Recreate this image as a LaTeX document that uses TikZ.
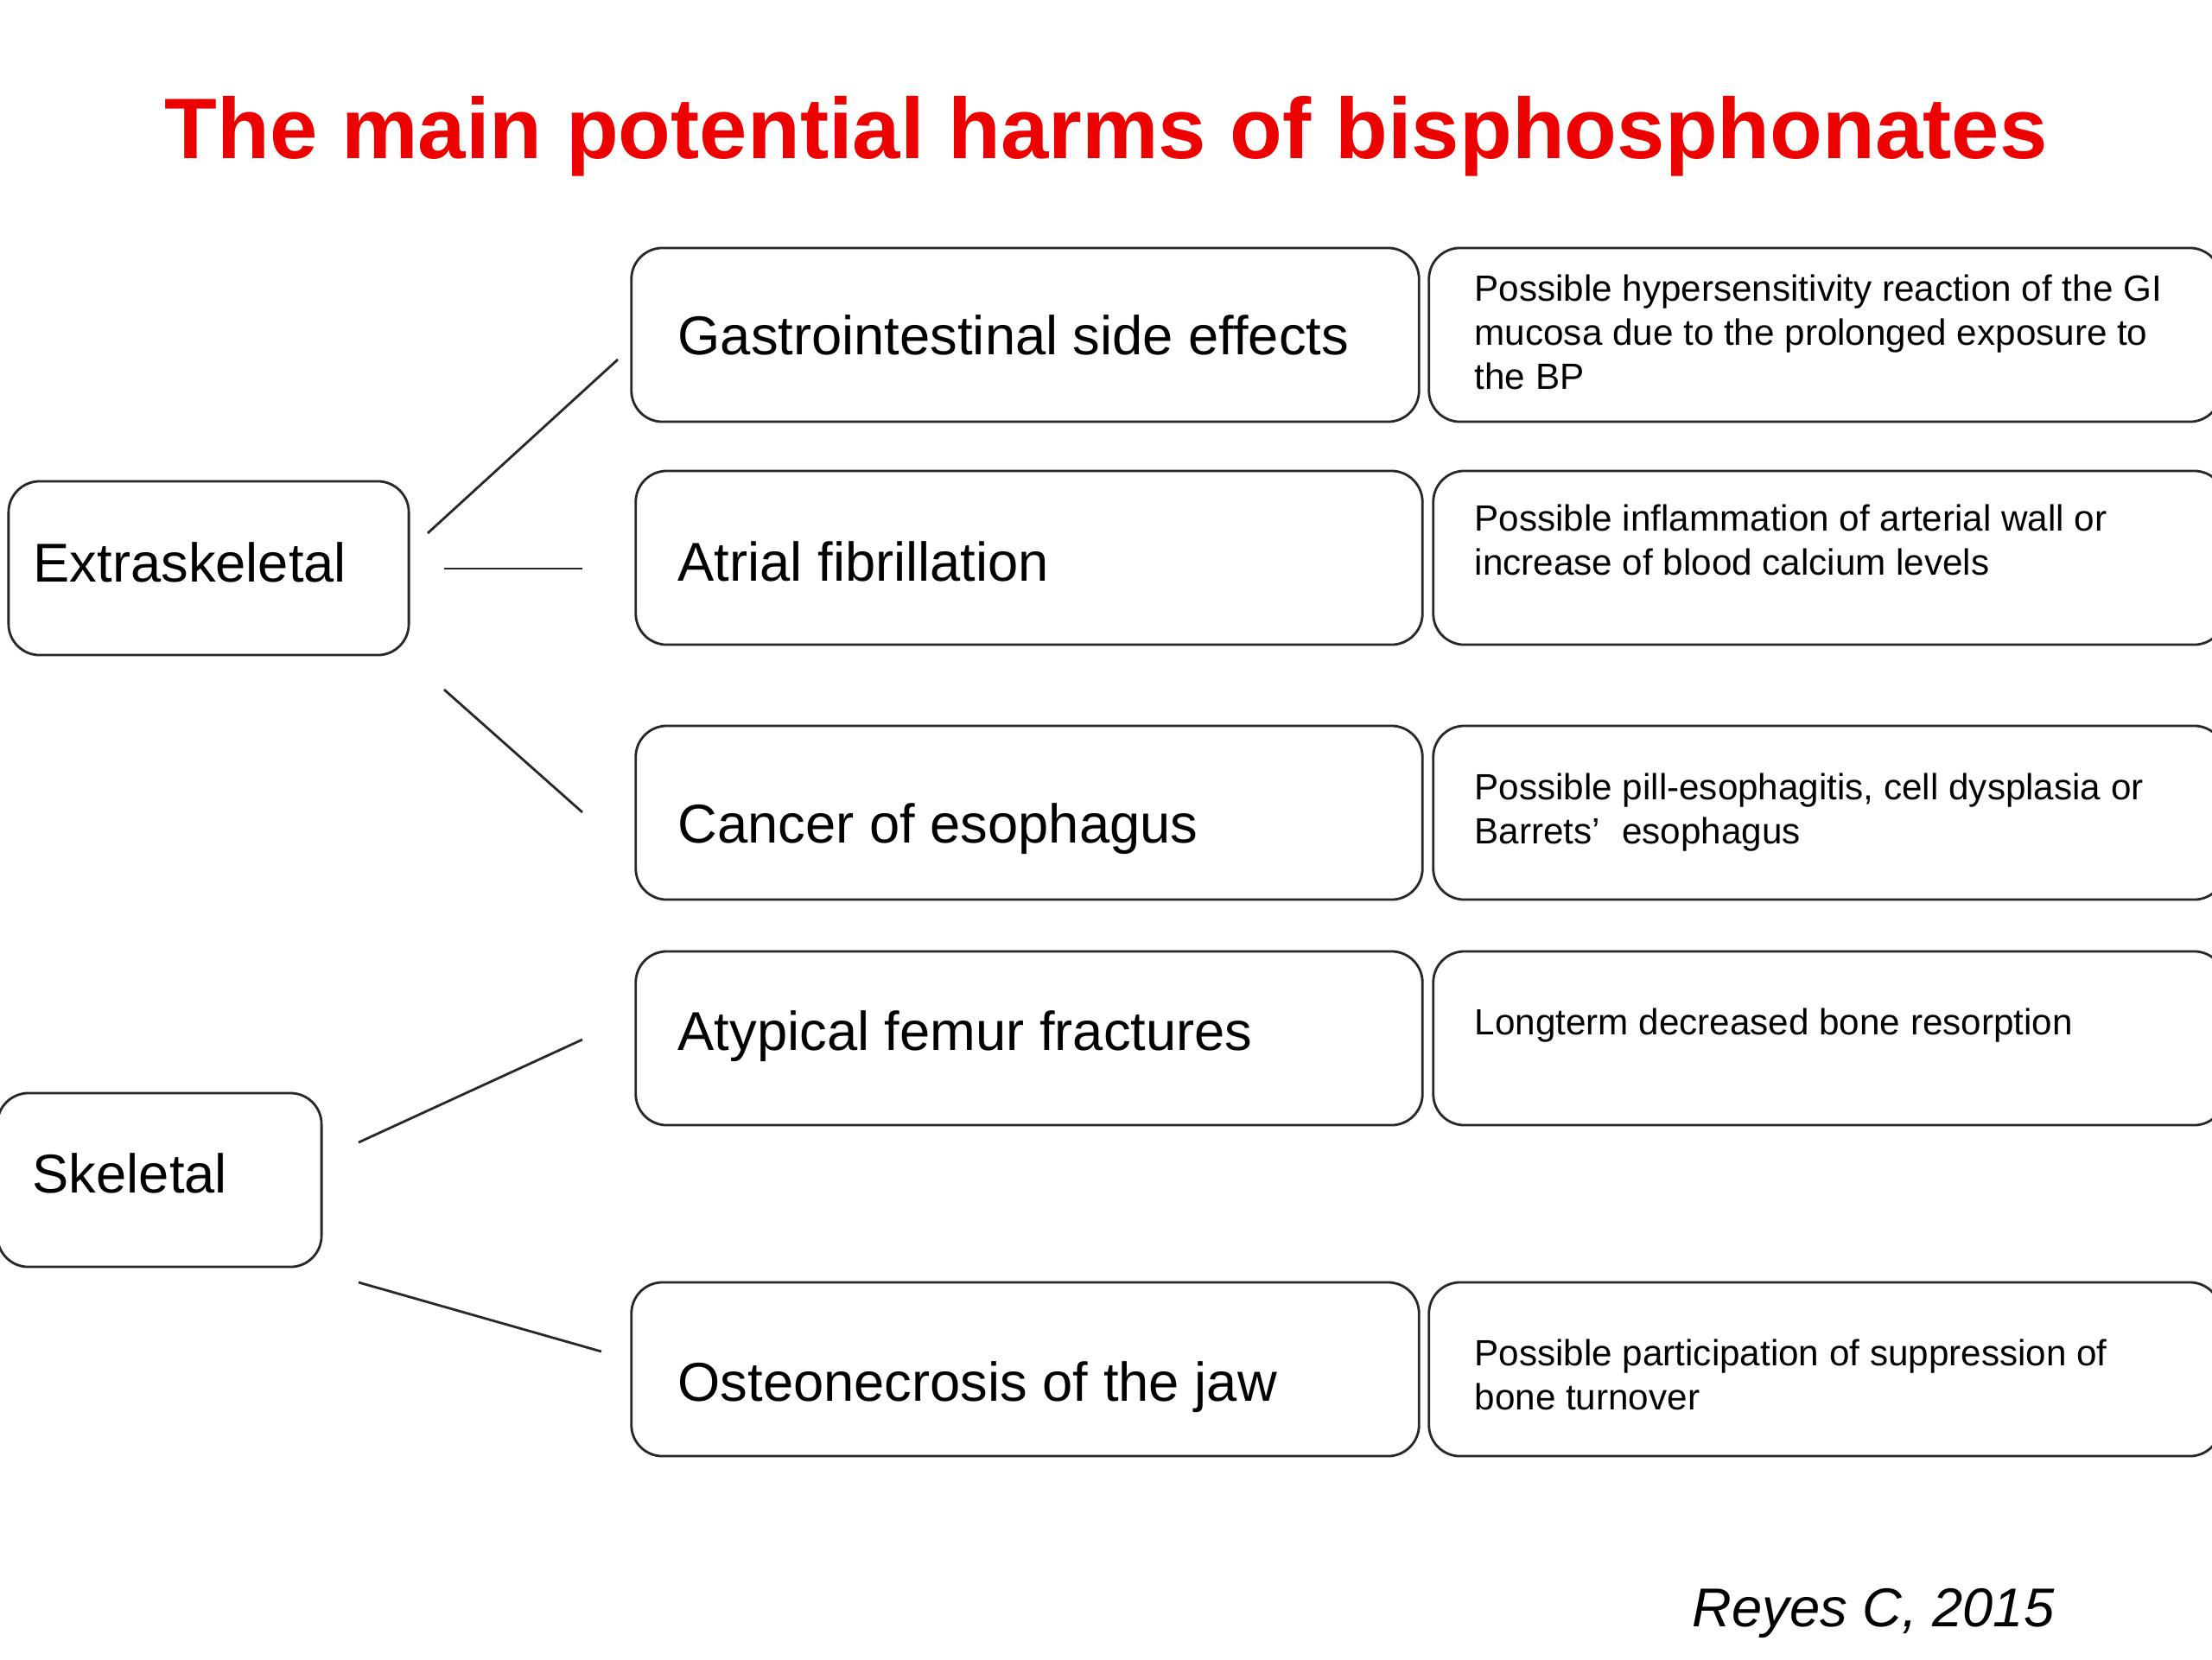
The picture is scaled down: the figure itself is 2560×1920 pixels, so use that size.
\documentclass[tikz,border=0pt]{standalone}
\usepackage{fontspec}
\setmainfont{Liberation Sans}
\usepackage{xcolor}
\definecolor{titlered}{RGB}{237,0,0}
\definecolor{boxline}{RGB}{40,40,40}

\begin{document}
\begin{tikzpicture}[x=0.01cm,y=-0.01cm,
    harm/.style={draw=boxline,line width=0.8pt,rounded corners=0.36cm,minimum height=2.01cm,inner sep=0pt},
    harmtxt/.style={anchor=base west,inner sep=0pt,font=\fontsize{18}{21.6}\selectfont},
    desctxt/.style={anchor=base west,inner sep=0pt,align=left,font=\fontsize{12}{14.5}\selectfont},
    link/.style={draw=boxline,line width=0.8pt}]
  \useasboundingbox (0,0) rectangle (2560,1920);

  \node[anchor=base,inner sep=0pt,text=titlered,font=\fontsize{28.3}{34}\selectfont\bfseries] (title)
    at (1280,183) {The main potential harms of bisphosphonates};

  \node[harm,minimum width=4.63cm] (ext) at (241.5,657.5) {};
  \node[harmtxt] (extt) at (38,673) {Extraskeletal};
  \node[harm,minimum width=3.75cm] (ske) at (184.5,1365.5) {};
  \node[harmtxt] (sket) at (37,1380) {Skeletal};

  \node[harm,minimum width=9.11cm] (gi) at (1186.5,387.5) {};
  \node[harm,minimum width=9.10cm] (af) at (1191,645.5) {};
  \node[harm,minimum width=9.10cm] (ce) at (1191,940.5) {};
  \node[harm,minimum width=9.10cm] (fe) at (1191,1201.5) {};
  \node[harm,minimum width=9.11cm] (oj) at (1186.5,1584.5) {};
  \node[harmtxt] (git) at (784,410) {Gastrointestinal side effects};
  \node[harmtxt] (aft) at (784,672) {Atrial fibrillation};
  \node[harmtxt] (cet) at (784,975) {Cancer of esophagus};
  \node[harmtxt] (fet) at (784,1215) {Atypical femur fractures};
  \node[harmtxt] (ojt) at (784,1621) {Osteonecrosis of the jaw};

  \node[harm,minimum width=9.16cm] (gid) at (2112,387.5) {};
  \node[harm,minimum width=9.16cm] (afd) at (2117,645.5) {};
  \node[harm,minimum width=9.16cm] (ced) at (2117,940.5) {};
  \node[harm,minimum width=9.16cm] (fed) at (2117,1201.5) {};
  \node[harm,minimum width=9.16cm] (ojd) at (2112,1584.5) {};
  \node[desctxt] (gidt) at (1706,450) {Possible hypersensitivity reaction of the GI\\mucosa due to the prolonged exposure to\\the BP};
  \node[desctxt] (afdt) at (1706,665) {Possible inflammation of arterial wall or\\increase of blood calcium levels};
  \node[desctxt] (cedt) at (1706,976) {Possible pill-esophagitis, cell dysplasia or\\Barrets’\hspace{0.6em}esophagus};
  \node[desctxt] (fedt) at (1706,1197) {Longterm decreased bone resorption};
  \node[desctxt] (ojdt) at (1706,1631) {Possible participation of suppression of\\bone turnover};

  \coordinate (ext-gi) at (495,617);  \coordinate (gi-ext) at (715,416);
  \coordinate (ext-af) at (514,658);  \coordinate (af-ext) at (674,658);
  \coordinate (ext-ce) at (514,798);  \coordinate (ce-ext) at (674,940);
  \coordinate (ske-fe) at (415,1322); \coordinate (fe-ske) at (674,1203);
  \coordinate (ske-oj) at (415,1484); \coordinate (oj-ske) at (696,1564);
  \draw[link] (ext-gi) -- (gi-ext);
  \draw[link] (ext-af) -- (af-ext);
  \draw[link] (ext-ce) -- (ce-ext);
  \draw[link] (ske-fe) -- (fe-ske);
  \draw[link] (ske-oj) -- (oj-ske);

  \node[anchor=base west,inner sep=0pt,font=\fontsize{18}{21.6}\selectfont\itshape] (cite)
    at (1958,1882) {Reyes C, 2015};
\end{tikzpicture}
\end{document}
